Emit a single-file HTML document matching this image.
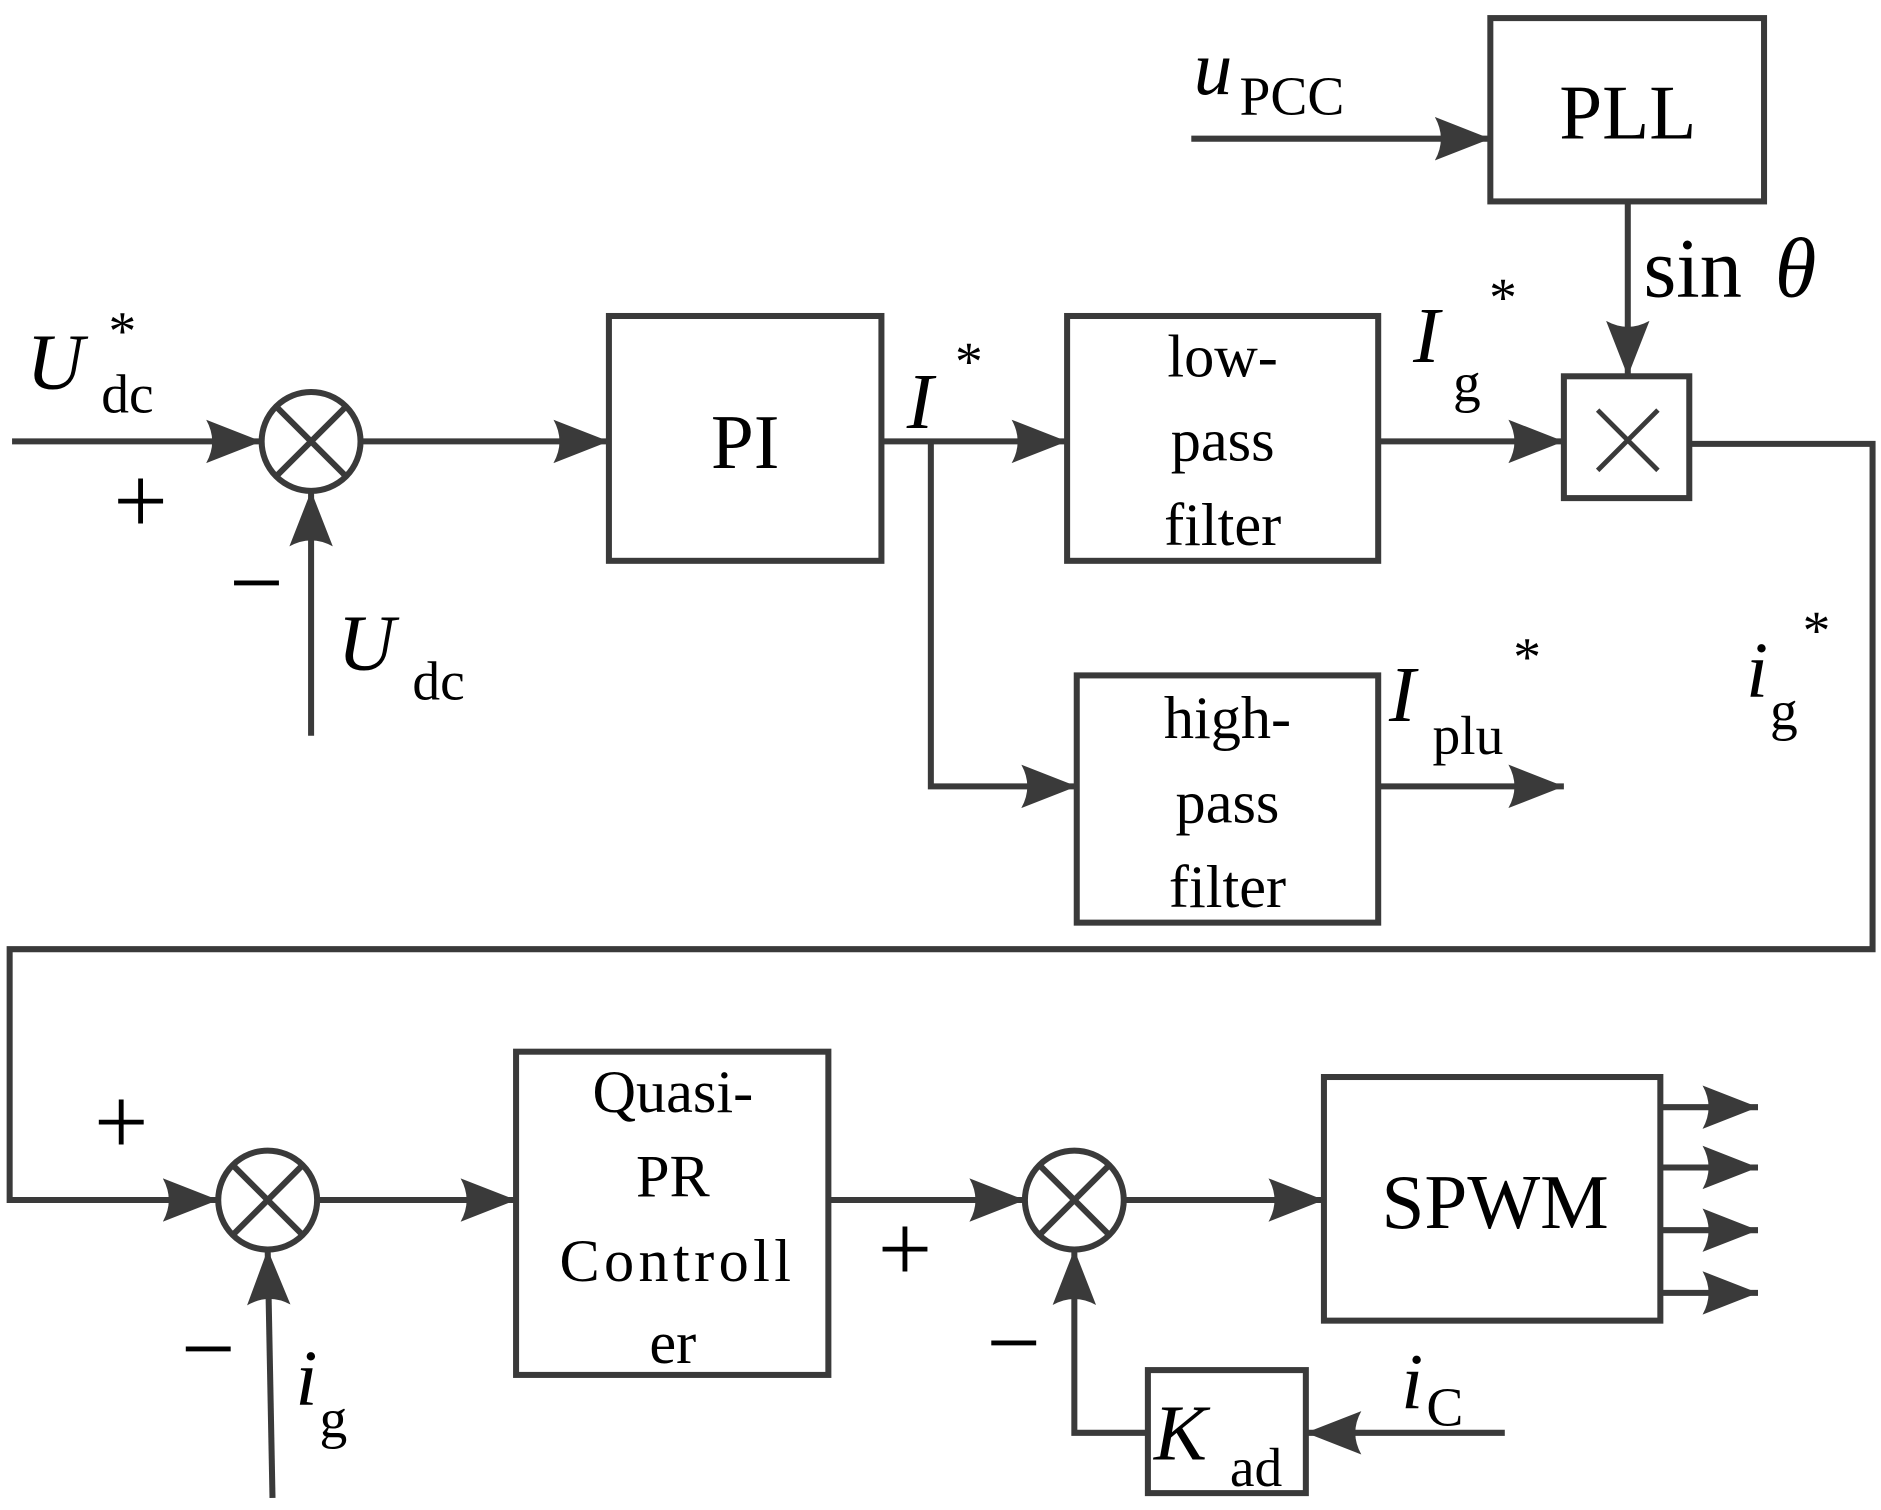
<!DOCTYPE html>
<html><head><meta charset="utf-8"><style>
html,body{margin:0;padding:0;background:#fff;}
svg{display:block;}
text{font-family:"Liberation Serif",serif;fill:#000;}
</style></head><body>
<svg width="1881" height="1510" viewBox="0 0 1560 1252" preserveAspectRatio="none" xmlns="http://www.w3.org/2000/svg">
<defs>
<marker id="a" markerUnits="userSpaceOnUse" markerWidth="48" markerHeight="40" refX="46" refY="20" orient="auto">
<path d="M0,2 L46,20 L0,38 Q10,20 0,2 Z" fill="#3a3a3a"/>
</marker>
</defs>
<g stroke="#3a3a3a" stroke-width="5" fill="none">
<rect x="1236" y="15" width="227" height="152"/>
<rect x="1297" y="312" width="104" height="101"/>
<rect x="505" y="262" width="226" height="203"/>
<rect x="885" y="262" width="258" height="203"/>
<rect x="893" y="560" width="250" height="205"/>
<rect x="428" y="872" width="259" height="268"/>
<rect x="1098" y="893" width="279" height="202"/>
<rect x="952" y="1136" width="131" height="102"/>
<circle cx="258" cy="366" r="41"/>
<path d="M229,337 L287,395 M287,337 L229,395"/>
<circle cx="222" cy="995" r="41"/>
<path d="M193,966 L251,1024 M251,966 L193,1024"/>
<circle cx="891" cy="995" r="41"/>
<path d="M862,966 L920,1024 M920,966 L862,1024"/>
<path d="M1325,340 L1375,390 M1375,340 L1325,390" stroke-width="4"/>
<line x1="988" y1="115" x2="1236" y2="115" marker-end="url(#a)"/>
<line x1="1350" y1="167" x2="1350" y2="312" marker-end="url(#a)"/>
<line x1="10" y1="366" x2="217" y2="366" marker-end="url(#a)"/>
<line x1="258" y1="610" x2="258" y2="407" marker-end="url(#a)"/>
<line x1="299" y1="366" x2="505" y2="366" marker-end="url(#a)"/>
<line x1="731" y1="366" x2="885" y2="366" marker-end="url(#a)"/>
<polyline points="772,366 772,652 893,652" marker-end="url(#a)"/>
<line x1="1143" y1="366" x2="1297" y2="366" marker-end="url(#a)"/>
<line x1="1143" y1="652" x2="1297" y2="652" marker-end="url(#a)"/>
<polyline points="1401,368 1553,368 1553,787 8,787 8,995 181,995" marker-end="url(#a)"/>
<line x1="226" y1="1242" x2="222" y2="1036" marker-end="url(#a)"/>
<line x1="263" y1="995" x2="428" y2="995" marker-end="url(#a)"/>
<line x1="687" y1="995" x2="850" y2="995" marker-end="url(#a)"/>
<line x1="932" y1="995" x2="1098" y2="995" marker-end="url(#a)"/>
<line x1="1377" y1="918" x2="1458" y2="918" marker-end="url(#a)"/>
<line x1="1377" y1="968" x2="1458" y2="968" marker-end="url(#a)"/>
<line x1="1377" y1="1020" x2="1458" y2="1020" marker-end="url(#a)"/>
<line x1="1377" y1="1072" x2="1458" y2="1072" marker-end="url(#a)"/>
<line x1="1248" y1="1188" x2="1083" y2="1188" marker-end="url(#a)"/>
<polyline points="952,1188 891,1188 891,1036" marker-end="url(#a)"/>
</g>
<text x="1350" y="115" font-size="64" text-anchor="middle">PLL</text>
<text x="618" y="388" font-size="64" text-anchor="middle">PI</text>
<text x="1014" y="312" font-size="50" text-anchor="middle">low-</text>
<text x="1014" y="382" font-size="50" text-anchor="middle">pass</text>
<text x="1014" y="452" font-size="50" text-anchor="middle">filter</text>
<text x="1018" y="612" font-size="50" text-anchor="middle">high-</text>
<text x="1018" y="682" font-size="50" text-anchor="middle">pass</text>
<text x="1018" y="752" font-size="50" text-anchor="middle">filter</text>
<text x="558" y="922" font-size="50" text-anchor="middle">Quasi-</text>
<text x="558" y="992" font-size="50" text-anchor="middle">PR</text>
<text x="560" y="1062" font-size="50" text-anchor="middle" textLength="192" lengthAdjust="spacing">Controll</text>
<text x="558" y="1130" font-size="50" text-anchor="middle">er</text>
<text x="1240" y="1018" font-size="64" text-anchor="middle">SPWM</text>
<text x="990" y="78" font-size="64" font-style="italic">u</text>
<text x="1028" y="95" font-size="46">PCC</text>
<text x="1363" y="246" font-size="70">sin</text><text x="1472" y="246" font-size="70" font-style="italic">θ</text>
<text x="22" y="322" font-size="66" font-style="italic">U</text>
<text x="84" y="342" font-size="46">dc</text>
<text x="90" y="290" font-size="46">*</text>
<text x="94" y="442" font-size="80">+</text>
<text x="190" y="510" font-size="80">−</text>
<text x="280" y="555" font-size="66" font-style="italic">U</text>
<text x="342" y="580" font-size="46">dc</text>
<text x="752" y="355" font-size="66" font-style="italic">I</text>
<text x="792" y="315" font-size="46">*</text>
<text x="1172" y="300" font-size="66" font-style="italic">I</text>
<text x="1205" y="333" font-size="46">g</text>
<text x="1235" y="262" font-size="46">*</text>
<text x="1152" y="598" font-size="66" font-style="italic">I</text>
<text x="1188" y="625" font-size="46">plu</text>
<text x="1255" y="560" font-size="46">*</text>
<text x="1448" y="578" font-size="66" font-style="italic">i</text>
<text x="1468" y="605" font-size="46">g</text>
<text x="1495" y="538" font-size="46">*</text>
<text x="78" y="957" font-size="80">+</text>
<text x="150" y="1145" font-size="80">−</text>
<text x="245" y="1165" font-size="66" font-style="italic">i</text>
<text x="265" y="1192" font-size="46">g</text>
<text x="728" y="1062" font-size="80">+</text>
<text x="818" y="1140" font-size="80">−</text>
<text x="1162" y="1168" font-size="66" font-style="italic">i</text>
<text x="1183" y="1182" font-size="46">C</text>
<text x="957" y="1210" font-size="66" font-style="italic">K</text>
<text x="1020" y="1232" font-size="46">ad</text>
</svg>
</body></html>
